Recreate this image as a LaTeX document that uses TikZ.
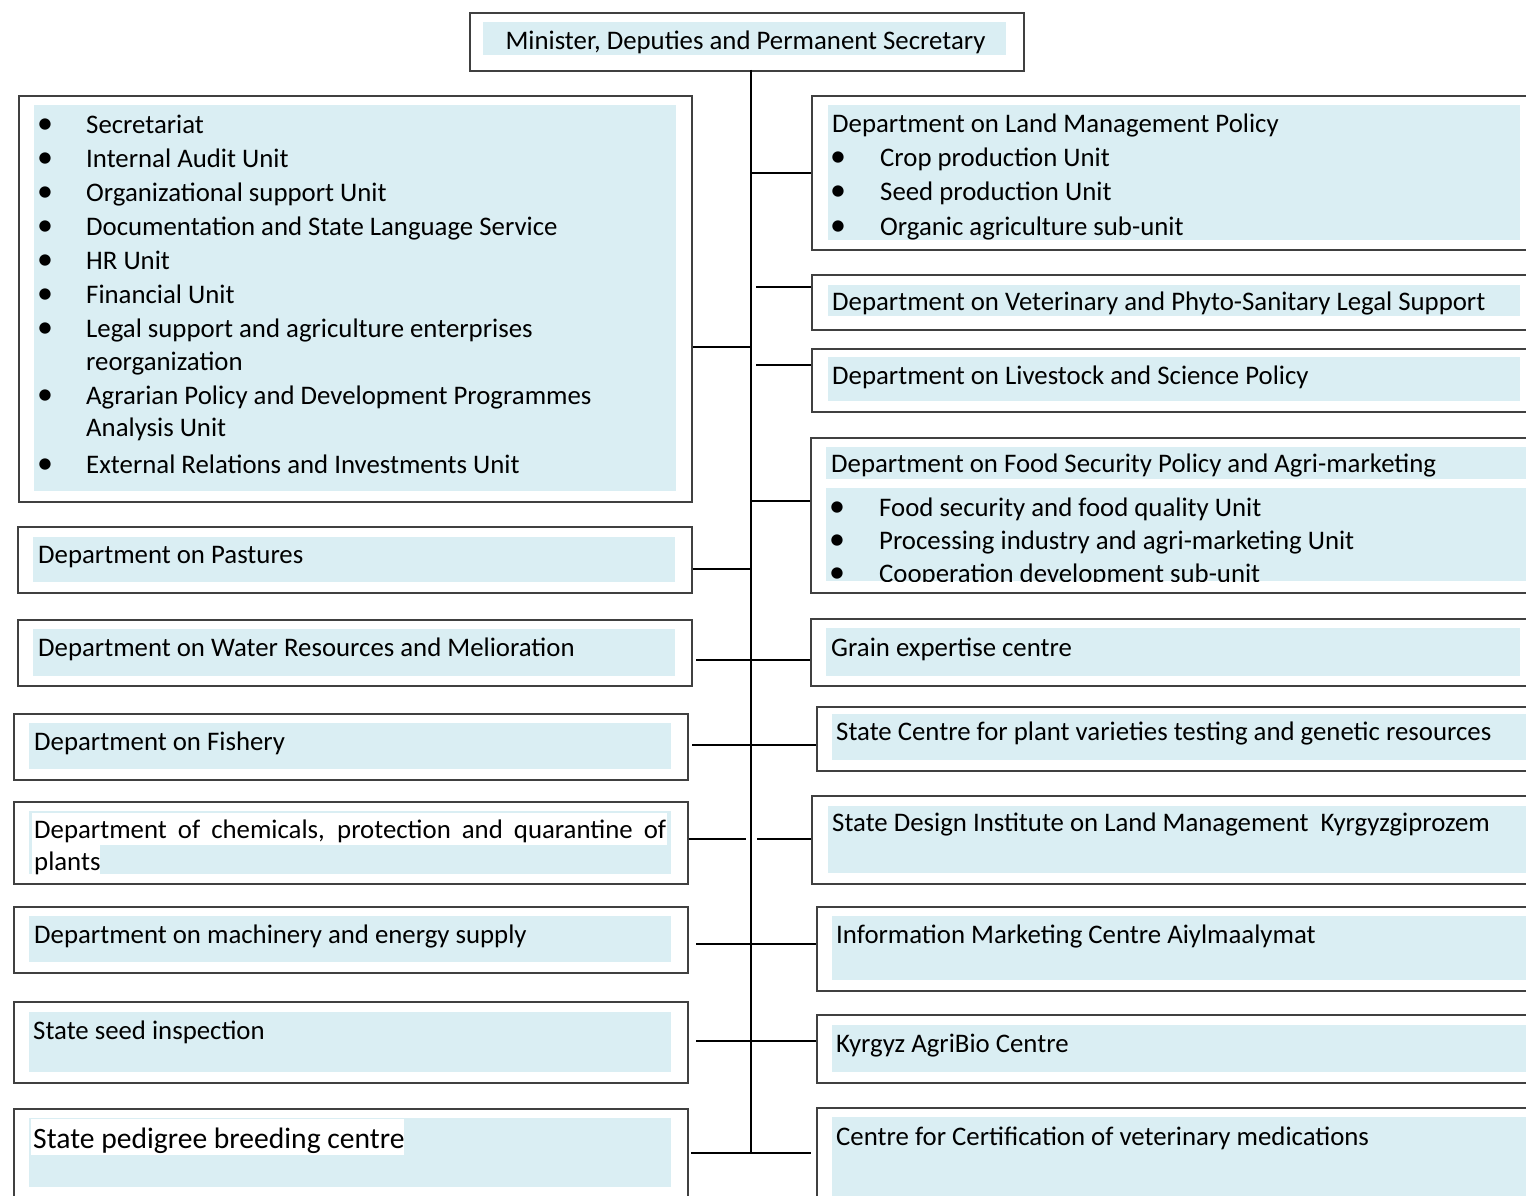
\documentclass[tikz,border=0pt]{standalone}
\usepackage{fontspec}
\setmainfont{Carlito}
\definecolor{lb}{HTML}{DAEEF3}
\definecolor{bd}{HTML}{404040}
\newcommand\msz{\fontsize{26.8}{32}\selectfont}
\newcommand\psz{\fontsize{29.6}{34}\selectfont}
\newcommand\bsz{\fontsize{32}{34}\selectfont}
\tikzset{
  obox/.style={draw=bd, line width=1.7pt, inner sep=0pt, anchor=north west},
  txt/.style={anchor=base west, inner sep=0pt, font=\msz, yshift=-1.5pt},
  bul/.style={anchor=base, inner sep=0pt, font=\bsz, yshift=-1.5pt},
  conn/.style={line width=2.4pt, draw=black},
}
\begin{document}
\begin{tikzpicture}[x=1pt,y=-1pt]
\useasboundingbox (0,0) rectangle (1526,1196);
\clip (0,0) rectangle (1526,1196);
% ---------- fills ----------
\fill[lb] (483,22) rectangle (1006,55);
\fill[lb] (34,105) rectangle (676,491);
\fill[lb] (828,105) rectangle (1520,240);
\fill[lb] (828,285) rectangle (1520,316);
\fill[lb] (828,357) rectangle (1520,401);
\fill[lb] (826,447) rectangle (1530,479);
\fill[lb] (826,488) rectangle (1530,581);
\fill[lb] (826,628) rectangle (1520,676);
\fill[lb] (832,714) rectangle (1530,760);
\fill[lb] (828,806) rectangle (1530,873);
\fill[lb] (832,916) rectangle (1530,980);
\fill[lb] (832,1025) rectangle (1530,1072);
\fill[lb] (832,1117) rectangle (1530,1200);
\fill[lb] (33,537) rectangle (675,582);
\fill[lb] (33,629) rectangle (675,676);
\fill[lb] (29,723) rectangle (671,769);
\fill[lb] (29,811) rectangle (671,874);
\fill[white] (32,813) rectangle (667,845);
\fill[white] (32,845) rectangle (100,874);
\fill[lb] (29,916) rectangle (671,962);
\fill[lb] (29,1012) rectangle (671,1072);
\fill[lb] (29,1118) rectangle (671,1187);
\fill[white] (31,1119) rectangle (404,1155);
% ---------- boxes ----------
\node[obox, minimum width=554pt, minimum height=58pt] (top) at (469,12) {};
\node[obox, minimum width=673pt, minimum height=406pt] (adm) at (18,95) {};
\node[obox, minimum width=730pt, minimum height=154pt] (land) at (811,95) {};
\node[obox, minimum width=730pt, minimum height=55pt] (vet) at (811,274) {};
\node[obox, minimum width=730pt, minimum height=63pt] (live) at (811,348) {};
\node[obox, minimum width=730pt, minimum height=155pt] (food) at (810,437) {};
\node[obox, minimum width=730pt, minimum height=67pt] (grain) at (810,618) {};
\node[obox, minimum width=730pt, minimum height=64pt] (scv) at (816,706) {};
\node[obox, minimum width=730pt, minimum height=88pt] (sdi) at (811,795) {};
\node[obox, minimum width=730pt, minimum height=84pt] (imc) at (816,906) {};
\node[obox, minimum width=730pt, minimum height=68pt] (agri) at (816,1014) {};
\node[obox, minimum width=730pt, minimum height=120pt] (cert) at (816,1107) {};
\node[obox, minimum width=674pt, minimum height=66pt] (past) at (17,526) {};
\node[obox, minimum width=674pt, minimum height=66pt] (water) at (17,619) {};
\node[obox, minimum width=674pt, minimum height=66pt] (fish) at (13,713) {};
\node[obox, minimum width=674pt, minimum height=82pt] (chem) at (13,801) {};
\node[obox, minimum width=674pt, minimum height=66pt] (mach) at (13,906) {};
\node[obox, minimum width=674pt, minimum height=81pt] (seed) at (13,1001) {};
\node[obox, minimum width=674pt, minimum height=120pt] (ped) at (13,1108) {};
% ---------- texts ----------
\node[anchor=base, inner sep=0pt, font=\msz] (ttop) at (745.5,50) {Minister, Deputies and Permanent Secretary};
% admin list
\foreach \yy/\tt [count=\i] in {132/Secretariat,166/Internal Audit Unit,200/Organizational support Unit,234/Documentation and State Language Service,268/HR Unit,302/Financial Unit,336/Legal support and agriculture enterprises,403/Agrarian Policy and Development Programmes,472/External Relations and Investments Unit}
  {\node[bul] (ab\i) at (45,\yy) {•}; \node[txt] (at\i) at (86,\yy) {\tt};}
\node[txt] (at10) at (86,369) {reorganization};
\node[txt] (at11) at (86,435) {Analysis Unit};
% land
\node[txt] (tland) at (832,131) {Department on Land Management Policy};
\foreach \yy/\tt [count=\i] in {165/Crop production Unit,199/Seed production Unit,234/Organic agriculture sub-unit}
  {\node[bul] (lb\i) at (838,\yy) {•}; \node[txt] (lt\i) at (880,\yy) {\tt};}
\node[txt] (tvet) at (832,309) {Department on Veterinary and Phyto-Sanitary Legal Support};
\node[txt] (tlive) at (832,383) {Department on Livestock and Science Policy};
\node[txt] (tfood) at (831,471) {Department on Food Security Policy and Agri-marketing};
\begin{scope}
\clip (826,488) rectangle (1530,581);
\foreach \yy/\tt [count=\i] in {515/Food security and food quality Unit,548/Processing industry and agri-marketing Unit,581/Cooperation development sub-unit}
  {\node[bul] (fb\i) at (837,\yy) {•}; \node[txt] (ft\i) at (879,\yy) {\tt};}
\end{scope}
\node[txt] (tgrain) at (831,655) {Grain expertise centre};
\node[txt] (tscv) at (836,739) {State Centre for plant varieties testing and genetic resources};
\node[txt] (tsdi) at (832,830) {State Design Institute on Land Management\ \ Kyrgyzgiprozem};
\node[txt] (timc) at (836,942) {Information Marketing Centre Aiylmaalymat};
\node[txt] (tagri) at (836,1051) {Kyrgyz AgriBio Centre};
\node[txt] (tcert) at (836,1144) {Centre for Certification of veterinary medications};
\node[txt] (tpast) at (38,562) {Department on Pastures};
\node[txt] (twater) at (38,655) {Department on Water Resources and Melioration};
\node[txt] (tfish) at (34,749) {Department on Fishery};
\node[txt] (tchem1) at (34,837) {\makebox[632pt][s]{Department of chemicals, protection and quarantine of}};
\node[txt] (tchem2) at (34,869) {plants};
\node[txt] (tmach) at (34,942) {Department on machinery and energy supply};
\node[txt] (tseed) at (33,1038) {State seed inspection};
\node[txt, font=\psz] (tped) at (33,1147) {State pedigree breeding centre};
% ---------- connectors ----------
\coordinate (tr0) at (751,70);
\coordinate (tr1) at (751,1153);
\draw[conn] (tr0) -- (tr1);
\coordinate (jland) at (751,173);
\draw[conn] (jland) -- (jland -| land.west);
\coordinate (jvet) at (756,287);
\draw[conn] (jvet) -- (jvet -| vet.west);
\coordinate (jlive) at (756,365);
\draw[conn] (jlive) -- (jlive -| live.west);
\coordinate (jadm) at (751,347);
\draw[conn] (jadm -| adm.east) -- (jadm);
\coordinate (jfood) at (751,501);
\draw[conn] (jfood) -- (jfood -| food.west);
\coordinate (jpast) at (751,569);
\draw[conn] (jpast -| past.east) -- (jpast);
\coordinate (jwl) at (696,660);
\coordinate (jw) at (751,660);
\draw[conn] (jwl) -- (jw) -- (jw -| grain.west);
\coordinate (jfl) at (692,745);
\coordinate (jf) at (751,745);
\draw[conn] (jfl) -- (jf) -- (jf -| scv.west);
\coordinate (jcl) at (746,839);
\coordinate (jcr) at (757,839);
\draw[conn] (jcl -| chem.east) -- (jcl);
\draw[conn] (jcr) -- (jcr -| sdi.west);
\coordinate (jml) at (696,944);
\coordinate (jm) at (751,944);
\draw[conn] (jml) -- (jm) -- (jm -| imc.west);
\coordinate (jsl) at (696,1041);
\coordinate (js) at (751,1041);
\draw[conn] (jsl) -- (js) -- (js -| agri.west);
\coordinate (jpl) at (691,1153);
\coordinate (jpr) at (811,1153);
\draw[conn] (jpl) -- (jpr);
\end{tikzpicture}
\end{document}
